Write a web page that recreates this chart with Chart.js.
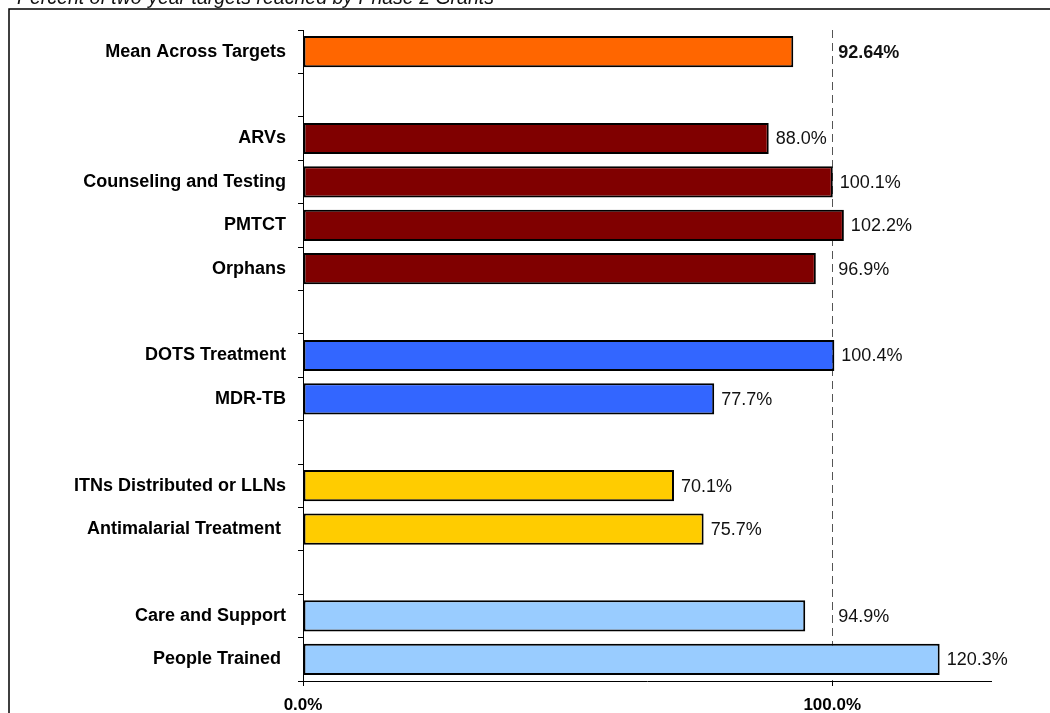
<!DOCTYPE html>
<html>
<head>
<meta charset="utf-8">
<title>Percent of two-year targets reached by Phase 2 Grants</title>
<script src="https://cdn.jsdelivr.net/npm/chart.js@4.4.1/dist/chart.umd.min.js"></script>
<style>
  html, body { margin: 0; padding: 0; background: #fff; }
  #wrap { position: relative; width: 1050px; height: 713px; }
</style>
</head>
<body>
<div id="wrap"><canvas id="targetsChart"></canvas></div>
<script>
/* ── Data ───────────────────────────────────────────────── */

var chartTitle = 'Percent of two-year targets reached by Phase 2 Grants';

// blank labels are the spacer rows between programme groups
var categories = [
  'Mean Across Targets', '',
  'ARVs', 'Counseling and Testing', 'PMTCT', 'Orphans', '',
  'DOTS Treatment', 'MDR-TB', '',
  'ITNs Distributed or LLNs', 'Antimalarial Treatment ', '',
  'Care and Support', 'People Trained '
];
var percentReached = [
  92.64, null,
  88.0, 100.1, 102.2, 96.9, null,
  100.4, 77.7, null,
  70.1, 75.7, null,
  94.9, 120.3
];
var xTickValues = [0, 100];
var xMax = 130;

/* ── Colours ────────────────────────────────────────────── */

var barColors = [
  '#FF6600', null,
  '#800000', '#800000', '#800000', '#800000', null,
  '#3366FF', '#3366FF', null,
  '#FFCC00', '#FFCC00', null,
  '#99CCFF', '#99CCFF'
];
var fontFamily = '"Liberation Sans", Arial, sans-serif';

/* ── Plugins ────────────────────────────────────────────── */

// outer frame + italic title that sits above it
var framePlugin = {
  id: 'frame',
  beforeDraw: function (chart) {
    var ctx = chart.ctx;
    ctx.save();
    ctx.strokeStyle = '#000';
    ctx.lineWidth = 1.5;
    ctx.beginPath();
    ctx.moveTo(9, 800);
    ctx.lineTo(9, 9);
    ctx.lineTo(1100, 9);
    ctx.stroke();
    ctx.fillStyle = '#111';
    ctx.font = 'italic 19.5px ' + fontFamily;
    ctx.textBaseline = 'alphabetic';
    ctx.fillText(chartTitle, 17, 4);
    ctx.restore();
  }
};

// value labels at the end of each bar; the ones just under 100 are
// pushed past the dashed 100% line like in the original
var valueLabelPlugin = {
  id: 'valueLabels',
  afterDatasetsDraw: function (chart) {
    var ctx = chart.ctx;
    var meta = chart.getDatasetMeta(0);
    var x100 = chart.scales.x.getPixelForValue(100);
    ctx.save();
    ctx.fillStyle = '#111';
    ctx.textBaseline = 'middle';
    ctx.textAlign = 'left';
    meta.data.forEach(function (bar, i) {
      var v = percentReached[i];
      if (v === null) return;
      var isMean = i === 0;
      var x = (v >= 90 && v < 100) ? x100 + 6 : bar.x + 7;
      ctx.font = (isMean ? 'bold ' : '') + '18px ' + fontFamily;
      ctx.fillText(v.toFixed(isMean ? 2 : 1) + '%', x, bar.y + 1);
    });
    ctx.restore();
  }
};

/* ── Chart ──────────────────────────────────────────────── */

new Chart(document.getElementById('targetsChart'), {
  type: 'bar',
  data: {
    labels: categories,
    datasets: [{
      data: percentReached,
      backgroundColor: barColors,
      borderColor: '#000',
      borderWidth: 2,
      borderSkipped: false,
      barPercentage: 0.72,
      categoryPercentage: 1
    }]
  },
  options: {
    indexAxis: 'y',
    responsive: true,
    maintainAspectRatio: false,
    animation: false,
    layout: { padding: { top: 30, right: 59, bottom: 0, left: 0 } },
    plugins: {
      legend: { display: false },
      tooltip: { enabled: false }
    },
    scales: {
      x: {
        min: 0,
        max: xMax,
        afterFit: function (scale) { scale.height = 32; },
        afterBuildTicks: function (scale) {
          scale.ticks = xTickValues.map(function (v) { return { value: v }; });
        },
        grid: {
          color: function (c) {
            return c.tick && c.tick.value === 100 ? '#555' : 'rgba(0,0,0,0)';
          },
          lineWidth: 1,
          tickColor: '#000',
          tickLength: 5
        },
        border: { display: true, color: '#000', width: 1, dash: [8, 5] },
        ticks: {
          color: '#000',
          padding: 9,
          maxRotation: 0,
          font: { family: fontFamily, size: 17, weight: 'bold' },
          callback: function (v) { return Number(v).toFixed(1) + '%'; }
        }
      },
      y: {
        afterFit: function (scale) { scale.width = 303; },
        grid: {
          offset: true,
          drawOnChartArea: false,
          tickColor: '#000',
          tickLength: 5
        },
        border: { display: true, color: '#000', width: 1 },
        ticks: {
          color: '#000',
          padding: 12,
          autoSkip: false,
          font: { family: fontFamily, size: 18, weight: 'bold' }
        }
      }
    }
  },
  plugins: [framePlugin, valueLabelPlugin]
});
</script>
</body>
</html>
